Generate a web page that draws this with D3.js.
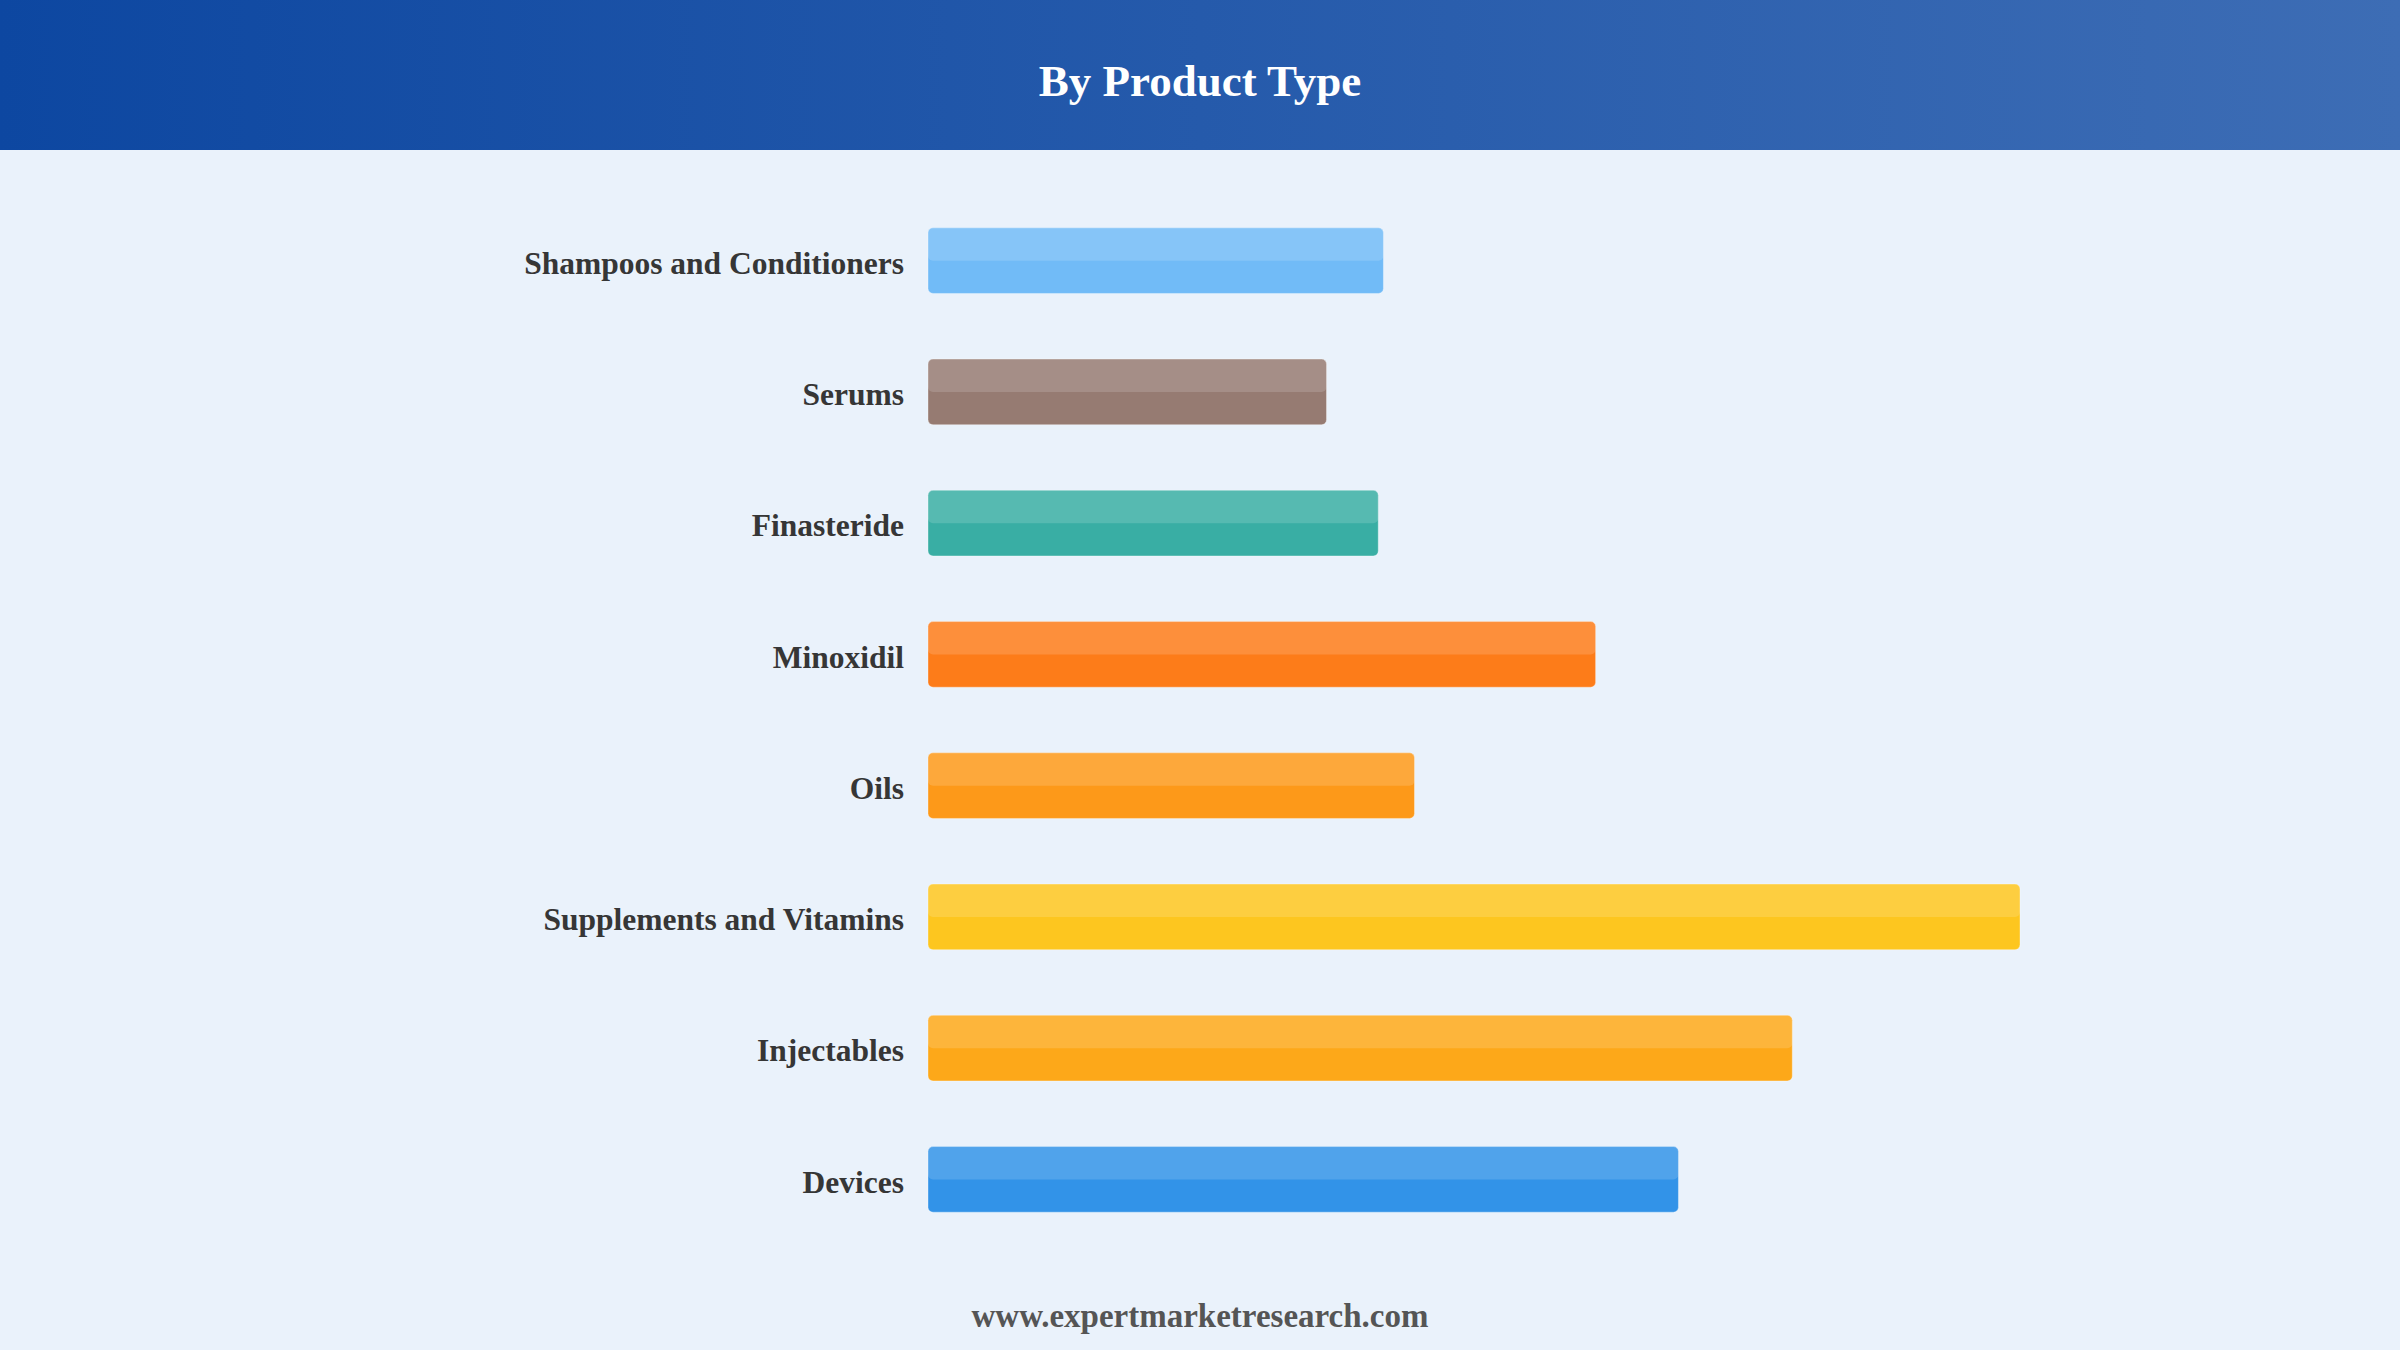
<!DOCTYPE html>
<html>
<head>
<meta charset="utf-8">
<script src="https://cdn.jsdelivr.net/npm/d3@7"></script>
<style>
  html, body { margin: 0; padding: 0; background: #eaf2fb; }
  svg { display: block; }
</style>
</head>
<body>
<svg></svg>
<script>
const width = 2400;
const height = 1350;

// share of market by product type (%)
const categories = [
  "Shampoos and Conditioners",
  "Serums",
  "Finasteride",
  "Minoxidil",
  "Oils",
  "Supplements and Vitamins",
  "Injectables",
  "Devices",
];
const values = [8.8, 7.7, 8.7, 12.9, 9.4, 21.1, 16.7, 14.5];
const colors = ["#64b5f6", "#8d6e63", "#26a69a", "#ff6f00", "#ff8f00", "#ffc107", "#ffa000", "#1e88e5"];

const title = "By Product Type";
const source = "www.expertmarketresearch.com";

const data = categories.map((c, i) => ({ name: c, value: values[i], color: colors[i] }));

const svg = d3.select("svg").attr("width", width).attr("height", height);

svg.append("rect")
  .attr("width", width).attr("height", height)
  .attr("fill", "#eaf2fb");

// header band
const defs = svg.append("defs");
const grad = defs.append("linearGradient").attr("id", "hdr")
  .attr("x1", "0%").attr("x2", "100%").attr("y1", "0%").attr("y2", "0%");
grad.append("stop").attr("offset", "0%").attr("stop-color", "#0d47a1");
grad.append("stop").attr("offset", "100%").attr("stop-color", "#3d6db5");

svg.append("rect")
  .attr("width", width).attr("height", 150)
  .attr("fill", "url(#hdr)");

svg.append("text")
  .attr("x", width / 2).attr("y", 96)
  .attr("text-anchor", "middle")
  .style("font-family", "'Liberation Serif', 'Times New Roman', serif")
  .style("font-weight", "bold")
  .style("font-size", "45px")
  .attr("fill", "#ffffff")
  .text(title);

// scales
const x = d3.scaleLinear()
  .domain([0, d3.max(values)])
  .range([928, 2020]);

const y = d3.scaleBand()
  .domain(categories)
  .range([195, 1245])
  .paddingInner(0.5)
  .paddingOuter(0.25);

const rows = svg.append("g")
  .selectAll("g")
  .data(data)
  .join("g");

rows.append("rect")
  .attr("x", x(0))
  .attr("y", d => y(d.name))
  .attr("width", d => x(d.value) - x(0))
  .attr("height", y.bandwidth())
  .attr("rx", 5)
  .attr("fill", d => d.color)
  .attr("fill-opacity", 0.9)
  .attr("stroke", "#ffffff")
  .attr("stroke-opacity", 0.35)
  .attr("stroke-width", 1);

// glossy top half
rows.append("rect")
  .attr("x", x(0))
  .attr("y", d => y(d.name))
  .attr("width", d => x(d.value) - x(0))
  .attr("height", y.bandwidth() / 2)
  .attr("rx", 5)
  .attr("fill", "#ffffff")
  .attr("fill-opacity", 0.15);

rows.append("text")
  .attr("x", x(0) - 24)
  .attr("y", d => y(d.name) + y.bandwidth() / 2)
  .attr("dy", "0.42em")
  .attr("text-anchor", "end")
  .style("font-family", "'Liberation Serif', 'Times New Roman', serif")
  .style("font-weight", "bold")
  .style("font-size", "31.5px")
  .attr("fill", "#363636")
  .text(d => d.name);

svg.append("text")
  .attr("x", width / 2).attr("y", 1327)
  .attr("text-anchor", "middle")
  .style("font-family", "'Liberation Serif', 'Times New Roman', serif")
  .style("font-weight", "bold")
  .style("font-size", "33px")
  .attr("fill", "#555555")
  .text(source);
</script>
</body>
</html>
